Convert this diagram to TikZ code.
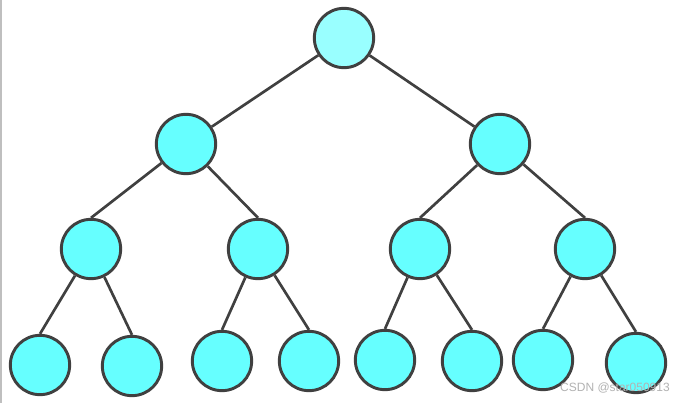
\documentclass[tikz,border=0pt]{standalone}
\usepackage{fontspec}
\newfontfamily\wmfont{Liberation Sans}
\definecolor{nodefill}{HTML}{66FFFF}
\definecolor{rootfill}{HTML}{99FFFF}
\definecolor{edgecol}{HTML}{404040}
\begin{document}
\begin{tikzpicture}[x=0.75pt,y=-0.75pt,
  tnode/.style={circle,draw=edgecol,line width=2.2pt,fill=nodefill,minimum size=44.5pt,inner sep=0pt},
  rootnode/.style={tnode,fill=rootfill},
  edge/.style={draw=edgecol,line width=2pt}]
\useasboundingbox (0,0) rectangle (683,403);
\fill[white] (0,0) rectangle (683,403);
\draw[color=black!25,line width=1.5pt] (1,0) -- (1,403);
\node[rootnode] (r) at (344,38) {};
\node[tnode] (a) at (186,144) {};
\node[tnode] (b) at (500,144) {};
\node[tnode] (a1) at (91,249) {};
\node[tnode] (a2) at (258,249) {};
\node[tnode] (b1) at (420,249) {};
\node[tnode] (b2) at (585,249) {};
\node[tnode] (a11) at (40,365) {};
\node[tnode] (a12) at (132,366) {};
\node[tnode] (a21) at (222,361) {};
\node[tnode] (a22) at (309,361) {};
\node[tnode] (b11) at (385,360) {};
\node[tnode] (b12) at (472,361) {};
\node[tnode] (b21) at (543,360) {};
\node[tnode] (b22) at (636,363) {};
\draw[edge] (r) -- (a);
\draw[edge] (r) -- (b);
\foreach \p/\c in {a/a1,a/a2,b/b1,b/b2,a1/a11,a1/a12,a2/a21,a2/a22,b1/b11,b1/b12,b2/b21,b2/b22}
  \draw[edge] (\p) -- (\c.north);
\node[text=black!30,font=\wmfont\fontsize{9pt}{10pt}\selectfont,inner sep=0pt] (wm) at (615,388) {CSDN @star050913};
\end{tikzpicture}
\end{document}
